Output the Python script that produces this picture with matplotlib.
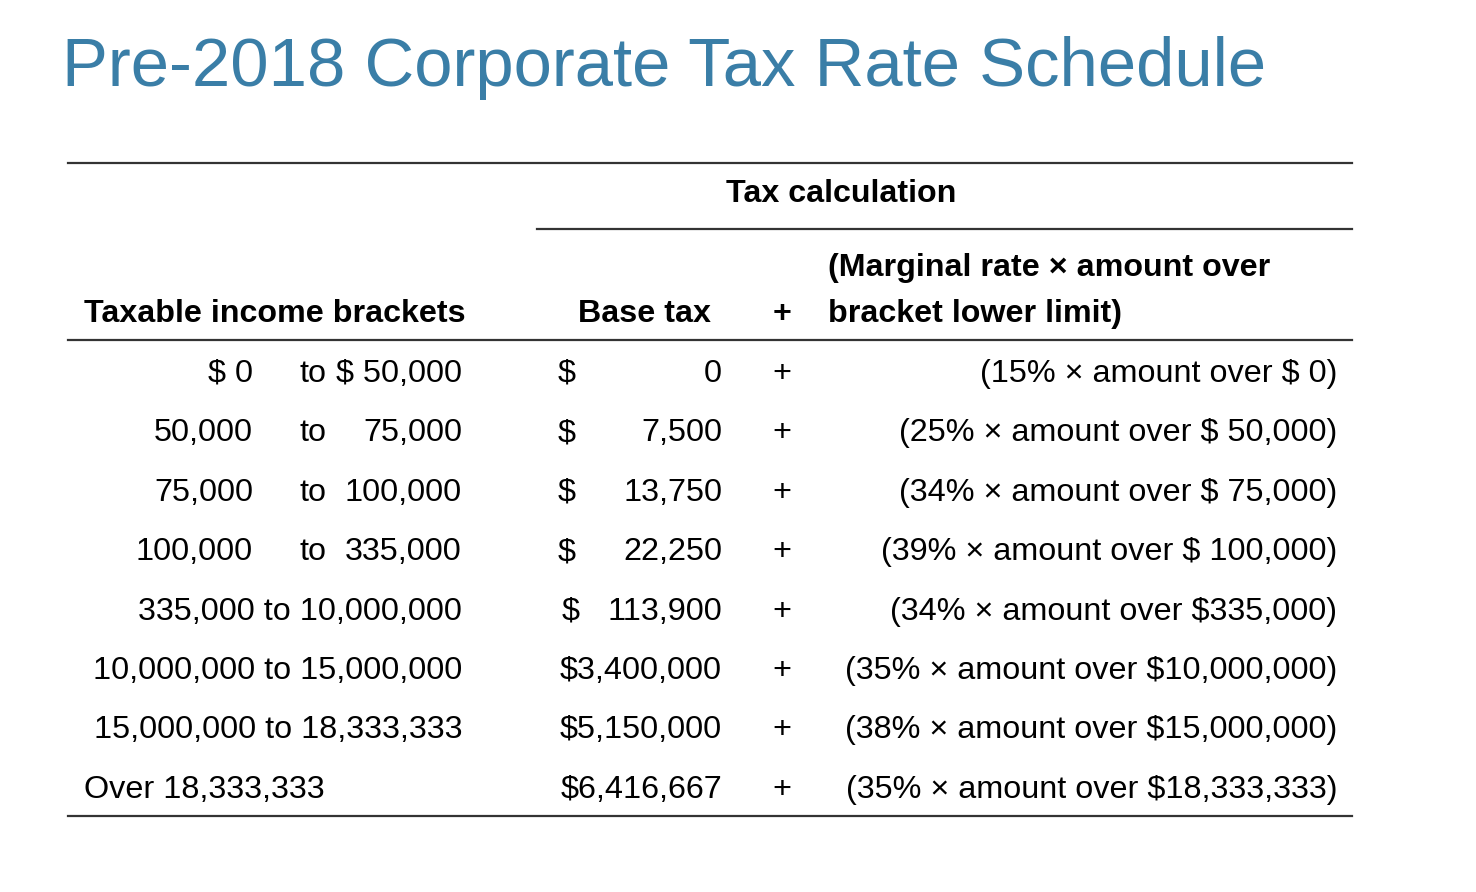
import matplotlib
matplotlib.use("Agg")
import matplotlib.pyplot as plt

plt.rcParams['font.family'] = ['Liberation Sans', 'DejaVu Sans']

title = "Pre-2018 Corporate Tax Rate Schedule"
income_lower = ["$ 0", "50,000", "75,000", "100,000", "335,000",
                "10,000,000", "15,000,000", "18,333,333"]
income_upper = ["$ 50,000", "75,000", "100,000", "335,000", "10,000,000",
                "15,000,000", "18,333,333", None]
base_tax = ["0", "7,500", "13,750", "22,250", "113,900",
            "3,400,000", "5,150,000", "6,416,667"]
marginal_rate = ["15%", "25%", "34%", "39%", "34%", "35%", "38%", "35%"]
amount_over = ["$ 0", "$ 50,000", "$ 75,000", "$ 100,000", "$335,000",
               "$10,000,000", "$15,000,000", "$18,333,333"]

W, H = 1476, 892
fig = plt.figure(figsize=(W / 100, H / 100), dpi=100)
ax = fig.add_axes([0, 0, 1, 1])
ax.set_xlim(0, W)
ax.set_ylim(H, 0)
ax.axis('off')

ax.text(62, 86, title, fontsize=49.6, color='#3A7EA7', va='baseline', ha='left')

line_kw = dict(color='#333333', lw=1.6)
ax.plot([68, 1352], [163, 163], **line_kw)
ax.plot([537, 1352], [229, 229], **line_kw)
ax.plot([68, 1352], [340, 340], **line_kw)
ax.plot([68, 1352], [816, 816], **line_kw)

hfs = 23.2
hk = dict(fontsize=hfs, fontweight='bold', va='baseline')
ax.text(841, 202, "Tax calculation", ha='center', **hk)
ax.text(84, 322, "Taxable income brackets", ha='left', **hk)
ax.text(644, 322, "Base tax", ha='center', **hk)
ax.text(782, 322, "+", ha='center', **hk)
ax.text(828, 276, "(Marginal rate \u00d7 amount over", ha='left', **hk)
ax.text(828, 322, "bracket lower limit)", ha='left', **hk)

fs = 23.3
bk = dict(fontsize=fs, va='baseline')
y0, dy = 382, 59.4
for i in range(len(income_lower)):
    y = y0 + i * dy
    lo, hi = income_lower[i], income_upper[i]
    if hi is None:
        ax.text(84, y, f"Over {lo}", ha='left', **bk)
    elif i < 4:
        ax.text(253, y, lo, ha='right', **bk)
        ax.text(299, y, "to", ha='left', **bk)
        ax.text(462, y, hi, ha='right', **bk)
    else:
        ax.text(462, y, f"{lo} to {hi}", ha='right', **bk)
    if len(base_tax[i]) <= 7:
        ax.text(558 if i < 4 else 562, y, "$", ha='left', **bk)
        ax.text(722, y, base_tax[i], ha='right', **bk)
    else:
        ax.text(722, y, "$" + base_tax[i], ha='right', **bk)
    ax.text(782, y, "+", ha='center', **bk)
    ax.text(1337, y, f"({marginal_rate[i]} \u00d7 amount over {amount_over[i]})",
            ha='right', **bk)

fig.savefig("out.png", dpi=100, facecolor='white')
